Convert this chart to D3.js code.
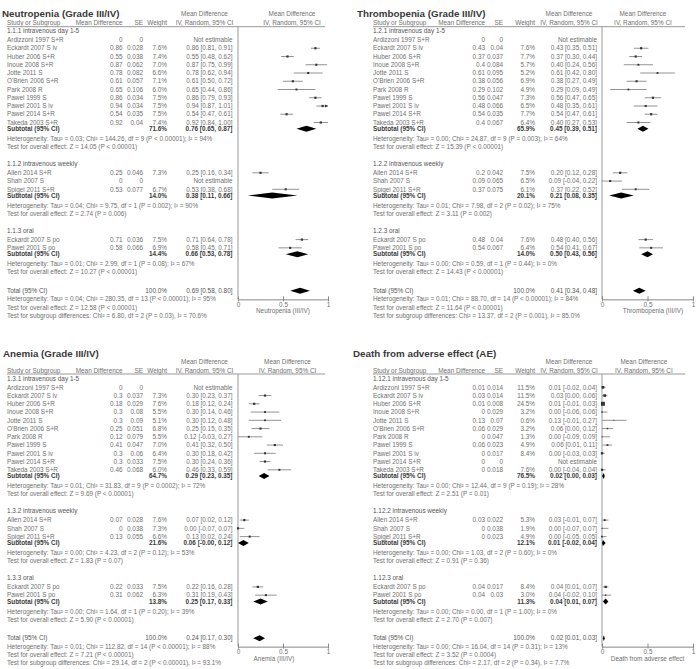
<!DOCTYPE html>
<html>
<head>
<meta charset="utf-8">
<script src="https://cdn.jsdelivr.net/npm/d3@7"></script>
<style>
body{margin:0;background:#fff}
svg text{font-family:"Liberation Sans",Arial,sans-serif}
</style>
</head>
<body>
<div id="chart"></div>
<script>
// rows: [group, study, mean diff, SE, weight %, lower, upper]  (weight null = not estimable)

// ---- Neutropenia ----
var neutGroups = ["1.1.1 intravenous day 1-5", "1.1.2 intravenous weekly", "1.1.3 oral"];
var neutStudies = [
  [0, "Ardizzoni 1997 S+R", 0, 0, null, null, null],
  [0, "Eckardt 2007 S iv", 0.86, 0.028, 7.6, 0.81, 0.91],
  [0, "Huber 2006 S+R", 0.55, 0.038, 7.4, 0.48, 0.62],
  [0, "Inoue 2008 S+R", 0.87, 0.062, 7.0, 0.75, 0.99],
  [0, "Jotte 2011 S", 0.78, 0.082, 6.6, 0.62, 0.94],
  [0, "O'Brien 2006 S+R", 0.61, 0.057, 7.1, 0.50, 0.72],
  [0, "Park 2008 R", 0.65, 0.106, 6.0, 0.44, 0.86],
  [0, "Pawel 1999 S", 0.86, 0.034, 7.5, 0.79, 0.93],
  [0, "Pawel 2001 S iv", 0.94, 0.034, 7.5, 0.87, 1.01],
  [0, "Pawel 2014 S+R", 0.54, 0.035, 7.5, 0.47, 0.61],
  [0, "Takeda 2003 S+R", 0.92, 0.04, 7.4, 0.84, 1.00],
  [1, "Allen 2014 S+R", 0.25, 0.046, 7.3, 0.16, 0.34],
  [1, "Shah 2007 S", 0, 0, null, null, null],
  [1, "Spigel 2011 S+R", 0.53, 0.077, 6.7, 0.38, 0.68],
  [2, "Eckardt 2007 S po", 0.71, 0.036, 7.5, 0.64, 0.78],
  [2, "Pawel 2001 S po", 0.58, 0.066, 6.9, 0.45, 0.71]
];
var neutSubtotals = [[71.6, 0.76, 0.65, 0.87], [14.0, 0.38, 0.11, 0.66], [14.4, 0.66, 0.53, 0.78]];
var neutHet = [
  "Heterogeneity: Tau² = 0.03; Chi² = 144.26, df = 9 (P < 0.00001); I² = 94%",
  "Heterogeneity: Tau² = 0.04; Chi² = 9.75, df = 1 (P = 0.002); I² = 90%",
  "Heterogeneity: Tau² = 0.01; Chi² = 2.99, df = 1 (P = 0.08); I² = 67%"
];
var neutZ = [
  "Test for overall effect: Z = 14.05 (P < 0.00001)",
  "Test for overall effect: Z = 2.74 (P = 0.006)",
  "Test for overall effect: Z = 10.27 (P < 0.00001)"
];
var neutTotal = [100.0, 0.69, 0.58, 0.80];
var neutTotalNotes = [
  "Heterogeneity: Tau² = 0.04; Chi² = 280.35, df = 13 (P < 0.00001); I² = 95%",
  "Test for overall effect: Z = 12.58 (P < 0.00001)",
  "Test for subgroup differences: Chi² = 6.80, df = 2 (P = 0.03), I² = 70.6%"
];

// ---- Thrombopenia ----
var thromGroups = ["1.2.1 intravenous day 1-5", "1.2.2 intravenous weekly", "1.2.3 oral"];
var thromStudies = [
  [0, "Ardizzoni 1997 S+R", 0, 0, null, null, null],
  [0, "Eckardt 2007 S iv", 0.43, 0.04, 7.6, 0.35, 0.51],
  [0, "Huber 2006 S+R", 0.37, 0.037, 7.7, 0.30, 0.44],
  [0, "Inoue 2008 S+R", 0.4, 0.084, 5.7, 0.24, 0.56],
  [0, "Jotte 2011 S", 0.61, 0.095, 5.2, 0.42, 0.80],
  [0, "O'Brien 2006 S+R", 0.38, 0.056, 6.9, 0.27, 0.49],
  [0, "Park 2008 R", 0.29, 0.102, 4.9, 0.09, 0.49],
  [0, "Pawel 1999 S", 0.56, 0.047, 7.3, 0.47, 0.65],
  [0, "Pawel 2001 S iv", 0.48, 0.066, 6.5, 0.35, 0.61],
  [0, "Pawel 2014 S+R", 0.54, 0.035, 7.7, 0.47, 0.61],
  [0, "Takeda 2003 S+R", 0.4, 0.067, 6.4, 0.27, 0.53],
  [1, "Allen 2014 S+R", 0.2, 0.042, 7.5, 0.12, 0.28],
  [1, "Shah 2007 S", 0.09, 0.065, 6.5, -0.04, 0.22],
  [1, "Spigel 2011 S+R", 0.37, 0.075, 6.1, 0.22, 0.52],
  [2, "Eckardt 2007 S po", 0.48, 0.04, 7.6, 0.40, 0.56],
  [2, "Pawel 2001 S po", 0.54, 0.067, 6.4, 0.41, 0.67]
];
var thromSubtotals = [[65.9, 0.45, 0.39, 0.51], [20.1, 0.21, 0.08, 0.35], [14.0, 0.50, 0.43, 0.56]];
var thromHet = [
  "Heterogeneity: Tau² = 0.00; Chi² = 24.87, df = 9 (P = 0.003); I² = 64%",
  "Heterogeneity: Tau² = 0.01; Chi² = 7.98, df = 2 (P = 0.02); I² = 75%",
  "Heterogeneity: Tau² = 0.00; Chi² = 0.59, df = 1 (P = 0.44); I² = 0%"
];
var thromZ = [
  "Test for overall effect: Z = 15.39 (P < 0.00001)",
  "Test for overall effect: Z = 3.11 (P = 0.002)",
  "Test for overall effect: Z = 14.43 (P < 0.00001)"
];
var thromTotal = [100.0, 0.41, 0.34, 0.48];
var thromTotalNotes = [
  "Heterogeneity: Tau² = 0.01; Chi² = 88.70, df = 14 (P < 0.00001); I² = 84%",
  "Test for overall effect: Z = 11.64 (P < 0.00001)",
  "Test for subgroup differences: Chi² = 13.37, df = 2 (P = 0.001), I² = 85.0%"
];

// ---- Anemia ----
var anemGroups = ["1.3.1 intravenous day 1-5", "1.3.2 intravenous weekly", "1.3.3 oral"];
var anemStudies = [
  [0, "Ardizzoni 1997 S+R", 0, 0, null, null, null],
  [0, "Eckardt 2007 S iv", 0.3, 0.037, 7.3, 0.23, 0.37],
  [0, "Huber 2006 S+R", 0.18, 0.029, 7.6, 0.12, 0.24],
  [0, "Inoue 2008 S+R", 0.3, 0.08, 5.5, 0.14, 0.46],
  [0, "Jotte 2011 S", 0.3, 0.09, 5.1, 0.12, 0.48],
  [0, "O'Brien 2006 S+R", 0.25, 0.051, 6.8, 0.15, 0.35],
  [0, "Park 2008 R", 0.12, 0.079, 5.5, -0.03, 0.27],
  [0, "Pawel 1999 S", 0.41, 0.047, 7.0, 0.32, 0.50],
  [0, "Pawel 2001 S iv", 0.3, 0.06, 6.4, 0.18, 0.42],
  [0, "Pawel 2014 S+R", 0.3, 0.033, 7.5, 0.24, 0.36],
  [0, "Takeda 2003 S+R", 0.46, 0.068, 6.0, 0.33, 0.59],
  [1, "Allen 2014 S+R", 0.07, 0.028, 7.6, 0.02, 0.12],
  [1, "Shah 2007 S", 0, 0.038, 7.3, -0.07, 0.07],
  [1, "Spigel 2011 S+R", 0.13, 0.055, 6.6, 0.02, 0.24],
  [2, "Eckardt 2007 S po", 0.22, 0.033, 7.5, 0.16, 0.28],
  [2, "Pawel 2001 S po", 0.31, 0.062, 6.3, 0.19, 0.43]
];
var anemSubtotals = [[64.7, 0.29, 0.23, 0.35], [21.6, 0.06, -0.004, 0.12], [13.8, 0.25, 0.17, 0.33]];
var anemHet = [
  "Heterogeneity: Tau² = 0.01; Chi² = 31.83, df = 9 (P = 0.0002); I² = 72%",
  "Heterogeneity: Tau² = 0.00; Chi² = 4.23, df = 2 (P = 0.12); I² = 53%",
  "Heterogeneity: Tau² = 0.00; Chi² = 1.64, df = 1 (P = 0.20); I² = 39%"
];
var anemZ = [
  "Test for overall effect: Z = 9.69 (P < 0.00001)",
  "Test for overall effect: Z = 1.83 (P = 0.07)",
  "Test for overall effect: Z = 5.90 (P < 0.00001)"
];
var anemTotal = [100.0, 0.24, 0.17, 0.30];
var anemTotalNotes = [
  "Heterogeneity: Tau² = 0.01; Chi² = 112.82, df = 14 (P < 0.00001); I² = 88%",
  "Test for overall effect: Z = 7.21 (P < 0.00001)",
  "Test for subgroup differences: Chi² = 29.14, df = 2 (P < 0.00001), I² = 93.1%"
];

// ---- Death from AE ----
var deathGroups = ["1.12.1 intravenous day 1-5", "1.12.2 intravenous weekly", "1.12.3 oral"];
var deathStudies = [
  [0, "Ardizzoni 1997 S+R", 0.01, 0.014, 11.5, -0.02, 0.04],
  [0, "Eckardt 2007 S iv", 0.03, 0.014, 11.5, 0.00, 0.06],
  [0, "Huber 2006 S+R", 0.01, 0.008, 24.5, -0.01, 0.03],
  [0, "Inoue 2008 S+R", 0, 0.029, 3.2, -0.06, 0.06],
  [0, "Jotte 2011 S", 0.13, 0.07, 0.6, -0.01, 0.27],
  [0, "O'Brien 2006 S+R", 0.06, 0.029, 3.2, 0.00, 0.12],
  [0, "Park 2008 R", 0, 0.047, 1.3, -0.09, 0.09],
  [0, "Pawel 1999 S", 0.06, 0.023, 4.9, 0.01, 0.11],
  [0, "Pawel 2001 S iv", 0, 0.017, 8.4, -0.03, 0.03],
  [0, "Pawel 2014 S+R", 0, 0, null, null, null],
  [0, "Takeda 2003 S+R", 0, 0.018, 7.6, -0.04, 0.04],
  [1, "Allen 2014 S+R", 0.03, 0.022, 5.3, -0.01, 0.07],
  [1, "Shah 2007 S", 0, 0.038, 1.9, -0.07, 0.07],
  [1, "Spigel 2011 S+R", 0, 0.023, 4.9, -0.05, 0.05],
  [2, "Eckardt 2007 S po", 0.04, 0.017, 8.4, 0.01, 0.07],
  [2, "Pawel 2001 S po", 0.04, 0.03, 3.0, -0.02, 0.10]
];
var deathSubtotals = [[76.5, 0.02, 0.00, 0.03], [12.1, 0.01, -0.02, 0.04], [11.3, 0.04, 0.01, 0.07]];
var deathHet = [
  "Heterogeneity: Tau² = 0.00; Chi² = 12.44, df = 9 (P = 0.19); I² = 28%",
  "Heterogeneity: Tau² = 0.00; Chi² = 1.03, df = 2 (P = 0.60); I² = 0%",
  "Heterogeneity: Tau² = 0.00; Chi² = 0.00, df = 1 (P = 1.00); I² = 0%"
];
var deathZ = [
  "Test for overall effect: Z = 2.51 (P = 0.01)",
  "Test for overall effect: Z = 0.91 (P = 0.36)",
  "Test for overall effect: Z = 2.70 (P = 0.007)"
];
var deathTotal = [100.0, 0.02, 0.01, 0.03];
var deathTotalNotes = [
  "Heterogeneity: Tau² = 0.00; Chi² = 16.04, df = 14 (P = 0.31); I² = 13%",
  "Test for overall effect: Z = 3.52 (P = 0.0004)",
  "Test for subgroup differences: Chi² = 2.17, df = 2 (P = 0.34), I² = 7.7%"
];

var axisTicks = [0, 0.5, 1];

// column positions for the two halves of the page
var cols = {
  left:  {study: 7,   meanR: 122.5, seR: 143, wR: 167, ciR: 232.5, x0: 238, x1: 328, lineEnd: 325},
  right: {study: 373, meanR: 485,   seR: 503, wR: 535, ciR: 597,   x0: 602, x1: 693, lineEnd: 685}
};

var panels = [
  {title: "Neutropenia (Grade III/IV)", titleX: 2, titleY: 16.5, y0: 31, side: "left", hdrC: 0.6, labC: 0.5,
   groups: neutGroups, studies: neutStudies, subs: neutSubtotals, het: neutHet, z: neutZ,
   total: neutTotal, notes: neutTotalNotes, axisLabel: "Neutropenia (III/IV)"},
  {title: "Thrombopenia (Grade III/IV)", titleX: 357, titleY: 16.5, y0: 31, side: "right", hdrC: 0.45, labC: 0.56,
   groups: thromGroups, studies: thromStudies, subs: thromSubtotals, het: thromHet, z: thromZ,
   total: thromTotal, notes: thromTotalNotes, axisLabel: "Thrombopenia (III/IV)"},
  {title: "Anemia (Grade III/IV)", titleX: 3, titleY: 357, y0: 378.3, side: "left", hdrC: 0.55, labC: 0.4,
   groups: anemGroups, studies: anemStudies, subs: anemSubtotals, het: anemHet, z: anemZ,
   total: anemTotal, notes: anemTotalNotes, axisLabel: "Anemia (III/IV)"},
  {title: "Death from adverse effect (AE)", titleX: 353, titleY: 357, y0: 378.3, side: "right", hdrC: 0.46, labC: 0.5,
   groups: deathGroups, studies: deathStudies, subs: deathSubtotals, het: deathHet, z: deathZ,
   total: deathTotal, notes: deathTotalNotes, axisLabel: "Death from adverse effect"}
];

var FS = 6.4;
var txtCol = "#707070";

var svg = d3.select("#chart").append("svg")
  .attr("width", 700)
  .attr("height", 669);

function ciText(md, lo, hi){
  return md.toFixed(2) + " [" + lo.toFixed(2) + ", " + hi.toFixed(2) + "]";
}

// work out the y of every text row in a panel
function layoutRows(p){
  var rows = [], y = p.y0;
  p.groups.forEach(function(g, gi){
    if(gi > 0) y += 17;
    rows.push({type: "group", y: y, text: g});
    p.studies.filter(function(s){return s[0] == gi}).forEach(function(s, i){
      y += (i == 0 ? 9 : 8.25);
      rows.push({type: "study", y: y, d: s});
    });
    y += 6.3; rows.push({type: "sub", y: y, d: p.subs[gi]});
    y += 10;  rows.push({type: "note", y: y, text: p.het[gi]});
    y += 8;   rows.push({type: "note", y: y, text: p.z[gi]});
  });
  y += 18.7; rows.push({type: "total", y: y, d: p.total});
  p.notes.forEach(function(n){
    y += 8.3; rows.push({type: "note", y: y, text: n});
  });
  return rows;
}

function drawPanel(p){
  var c = cols[p.side];
  var g = svg.append("g");
  var rows = layoutRows(p);
  var totalY = rows.find(function(r){return r.type == "total"}).y;
  var axisY = totalY + 8.5;

  var x = d3.scaleLinear().domain([0, 1]).range([c.x0, c.x1]);

  function txt(xp, y, s, anchor, col, weight){
    return g.append("text")
      .attr("x", xp).attr("y", y).attr("dy", "0.35em")
      .attr("font-size", FS)
      .attr("text-anchor", anchor || "start")
      .attr("fill", col || txtCol)
      .attr("font-weight", weight || "normal")
      .text(s);
  }

  // title
  g.append("text")
    .attr("x", p.titleX).attr("y", p.titleY)
    .attr("font-family", "DejaVu Sans")
    .attr("font-weight", "bold")
    .attr("font-size", 9.8)
    .attr("fill", "#3a3a3a")
    .text(p.title);

  // headers
  var h1 = p.y0 - 17, h2 = p.y0 - 8;
  var ciC = c.ciR - 28;
  txt(ciC, h1, "Mean Difference", "middle");
  txt(x(p.hdrC), h1, "Mean Difference", "middle");
  txt(c.study, h2, "Study or Subgroup");
  txt(c.meanR, h2, "Mean Difference", "end");
  txt(c.seR, h2, "SE", "end");
  txt(c.wR, h2, "Weight", "end");
  txt(ciC, h2, "IV, Random, 95% CI", "middle");
  txt(x(p.hdrC), h2, "IV, Random, 95% CI", "middle");

  g.append("line")
    .attr("x1", c.study).attr("x2", c.lineEnd)
    .attr("y1", p.y0 - 4.3).attr("y2", p.y0 - 4.3)
    .attr("stroke", "#999").attr("stroke-width", 1);

  // line of no effect
  g.append("line")
    .attr("x1", x(0)).attr("x2", x(0))
    .attr("y1", p.y0 - 4.3).attr("y2", axisY)
    .attr("stroke", "#999").attr("stroke-width", 1);

  rows.forEach(function(r){
    if(r.type == "group"){
      txt(c.study, r.y, r.text, "start", "#555");
    } else if(r.type == "note"){
      txt(c.study, r.y, r.text);
    } else if(r.type == "study"){
      var d = r.d;
      txt(c.study, r.y, d[1]);
      txt(c.meanR, r.y, String(d[2]), "end");
      txt(c.seR, r.y, String(d[3]), "end");
      if(d[4] == null){
        txt(c.ciR, r.y, "Not estimable", "end");
        return;
      }
      txt(c.wR, r.y, d[4].toFixed(1) + "%", "end");
      txt(c.ciR, r.y, ciText(d[2], d[5], d[6]), "end");

      var lo = Math.max(d[5], 0), hi = Math.min(d[6], 1);
      g.append("line")
        .attr("x1", x(lo)).attr("x2", x(hi))
        .attr("y1", r.y).attr("y2", r.y)
        .attr("stroke", "#777").attr("stroke-width", 0.8);
      // arrow where the interval runs off the right end
      if(d[6] > 1){
        g.append("path")
          .attr("d", "M" + x(1) + "," + r.y + "l-3,-1.6v3.2z")
          .attr("fill", "#333");
      }
      var s = Math.max(1, Math.sqrt(d[4]) * 0.8);
      g.append("rect")
        .attr("x", x(d[2]) - s / 2).attr("y", r.y - s / 2)
        .attr("width", s).attr("height", s)
        .attr("fill", "#333");
    } else {
      // subtotal / total
      var d = r.d;
      var isSub = r.type == "sub";
      var col = isSub ? "#3a3a3a" : "#555";
      var wt = isSub ? "bold" : "normal";
      txt(c.study, r.y, isSub ? "Subtotal (95% CI)" : "Total (95% CI)", "start", col, wt);
      txt(c.wR, r.y, d[0].toFixed(1) + "%", "end", col, wt);
      txt(c.ciR, r.y, ciText(d[1], d[2], d[3]), "end", col, wt);
      var lo = x(Math.max(d[2], 0)), hi = x(Math.min(d[3], 1)), m = x(d[1]);
      g.append("path")
        .attr("d", "M" + lo + "," + r.y + "L" + m + "," + (r.y - 3) + "L" + hi + "," + r.y + "L" + m + "," + (r.y + 3) + "Z")
        .attr("fill", "#000");
    }
  });

  // axis
  var ax = g.append("g")
    .attr("transform", "translate(0," + axisY + ")")
    .call(d3.axisBottom(x).tickValues(axisTicks).tickSize(3).tickSizeOuter(0).tickFormat(d3.format("")));
  ax.select(".domain").attr("stroke", "#888");
  ax.selectAll(".tick line").attr("y1", -3).attr("y2", 2).attr("stroke", "#888");
  ax.selectAll(".tick text")
    .attr("y", 3)
    .attr("font-size", FS)
    .attr("font-family", "Liberation Sans, Arial, sans-serif")
    .attr("fill", txtCol);

  g.append("text")
    .attr("x", x(p.labC)).attr("y", axisY + 14)
    .attr("text-anchor", "middle")
    .attr("font-size", FS)
    .attr("fill", txtCol)
    .text(p.axisLabel);
}

panels.forEach(drawPanel);
</script>
</body>
</html>
